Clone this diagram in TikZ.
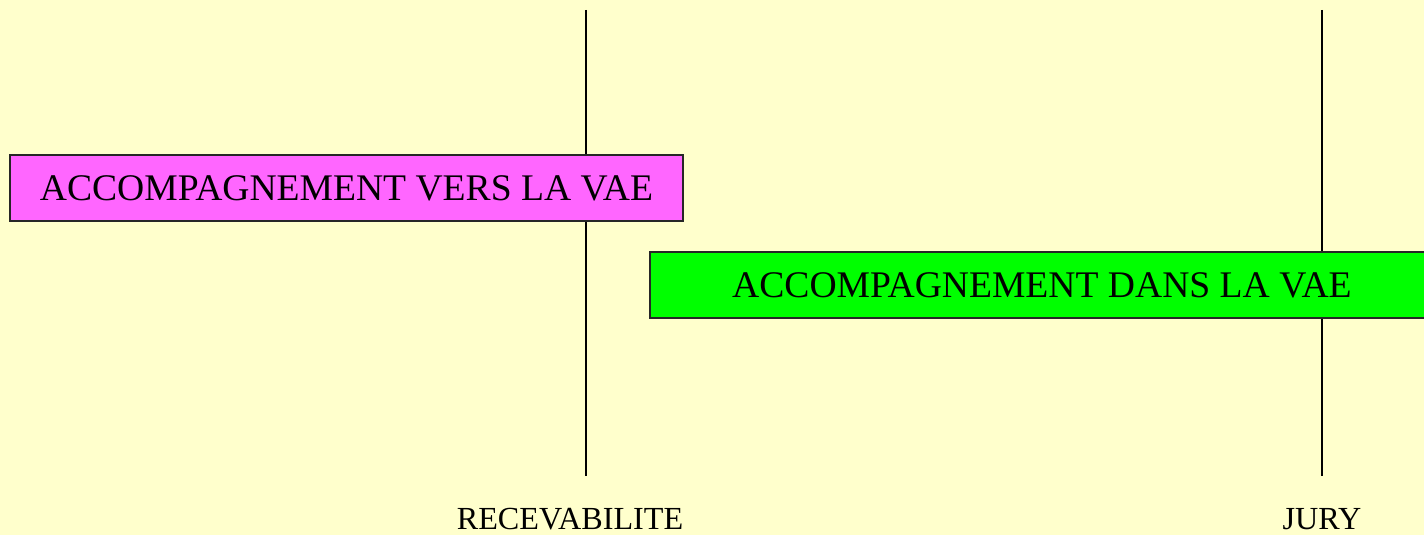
\documentclass[tikz,border=0pt]{standalone}
\usepackage{fontspec}
\setmainfont{Liberation Serif}
\usetikzlibrary{positioning}

\definecolor{bgyellow}{HTML}{FFFFCC}
\definecolor{vaepink}{HTML}{FF66FF}
\definecolor{vaegreen}{HTML}{00FF00}

\begin{document}
\begin{tikzpicture}[
    phasebox/.style={draw=black!85, line width=0.7pt, minimum height=1.32cm, inner sep=0pt, font=\fontsize{21.4}{25}\selectfont},
    milestone/.style={font=\fontsize{18.3}{22}\selectfont, inner sep=0pt}
]

    % Background and frame of the page
    \fill[bgyellow] (0,0) rectangle (28.48,10.7);
    \useasboundingbox (0,0) rectangle (28.48,10.7);
    \clip (0,0) rectangle (28.48,10.7);

    % End points of the two milestone lines
    \coordinate (recTop) at (11.72, 10.5);
    \coordinate (recBot) at (11.72, 1.18);
    \coordinate (juryTop) at (26.44, 10.5);
    \coordinate (juryBot) at (26.44, 1.18);

    % Milestone lines, drawn first so the boxes sit on top
    \draw[line width=0.8pt] (recTop) -- (recBot);
    \draw[line width=0.8pt] (juryTop) -- (juryBot);

    % The two phases
    \node[phasebox, fill=vaepink, minimum width=13.46cm] (vers) at (6.93, 6.94) {ACCOMPAGNEMENT VERS LA VAE\hspace{0.2cm}};
    \node[phasebox, fill=vaegreen, minimum width=15.68cm] (dans) at (20.84, 5.00) {ACCOMPAGNEMENT DANS LA VAE};

    % Milestone labels
    \node[milestone] (rec) at (11.4, 0.31) {RECEVABILITE};
    \node[milestone] (jury) at (26.44, 0.31) {JURY};

\end{tikzpicture}
\end{document}
